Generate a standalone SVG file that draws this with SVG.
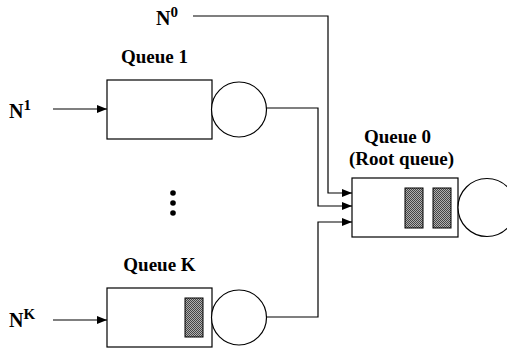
<svg xmlns="http://www.w3.org/2000/svg" width="507" height="354" viewBox="0 0 507 354">
<defs>
<marker id="arr" viewBox="0 0 10 8" refX="10" refY="4" markerWidth="10" markerHeight="8" markerUnits="userSpaceOnUse" orient="auto">
<path d="M0,0 L10,4 L0,8 z" fill="#000"/>
</marker>
<pattern id="dots" width="2" height="2" patternUnits="userSpaceOnUse">
<rect width="2" height="2" fill="#b0b0b0"/>
<rect width="1" height="1" fill="#444"/>
<rect x="1" y="1" width="1" height="1" fill="#444"/>
</pattern>
<style>
.lbl{font-family:"Liberation Serif","Times New Roman",serif;font-weight:bold;font-size:19px;fill:#000}
.n{font-size:20px}
.sup{font-size:15px}
.box{fill:#fff;stroke:#000;stroke-width:1.2}
.srv{fill:#fff;stroke:#000;stroke-width:1.2}
.pkt{fill:url(#dots);stroke:#000;stroke-width:1}
.wire{fill:none;stroke:#000;stroke-width:1.2}
</style>
</defs>
<rect width="507" height="354" fill="#fff"/>

<g id="source0">
<text class="lbl n" x="156" y="25">N<tspan class="sup" dy="-8">0</tspan></text>
</g>
<g id="source1">
<text class="lbl n" x="9" y="118">N<tspan class="sup" dy="-8">1</tspan></text>
</g>
<g id="sourceK">
<text class="lbl n" x="9" y="327">N<tspan class="sup" dy="-8">K</tspan></text>
</g>

<g id="queue1">
<text class="lbl" x="154.5" y="63" text-anchor="middle">Queue 1</text>
<rect class="box" x="107" y="80" width="105" height="59"/>
<circle class="srv" cx="239" cy="109.5" r="27.5"/>
</g>

<g id="ellipsis">
<circle cx="173" cy="193" r="2.8" fill="#000"/>
<circle cx="173" cy="203" r="2.8" fill="#000"/>
<circle cx="173" cy="213" r="2.8" fill="#000"/>
</g>

<g id="queueK">
<text class="lbl" x="159.5" y="271" text-anchor="middle">Queue K</text>
<rect class="box" x="107" y="288" width="105" height="59"/>
<rect class="pkt" x="185" y="298" width="18" height="39"/>
<circle class="srv" cx="239" cy="317.5" r="27.5"/>
</g>

<g id="queue0">
<text class="lbl" x="397.5" y="143" text-anchor="middle">Queue 0</text>
<text class="lbl" x="401.5" y="165" text-anchor="middle">(Root queue)</text>
<rect class="box" x="352" y="178" width="106" height="59"/>
<rect class="pkt" x="405" y="188" width="18" height="40"/>
<rect class="pkt" x="433" y="188" width="18" height="40"/>
<circle class="srv" cx="487" cy="207.5" r="29"/>
</g>

<g id="connectors">
<path class="wire" d="M53,109 H107" marker-end="url(#arr)"/>
<path class="wire" d="M53,320 H107" marker-end="url(#arr)"/>
<path class="wire" d="M193,16 H328 V193 H352" marker-end="url(#arr)"/>
<path class="wire" d="M266.5,108 H318 V206 H352" marker-end="url(#arr)"/>
<path class="wire" d="M266.5,317 H318 V222 H352" marker-end="url(#arr)"/>
</g>
</svg>
